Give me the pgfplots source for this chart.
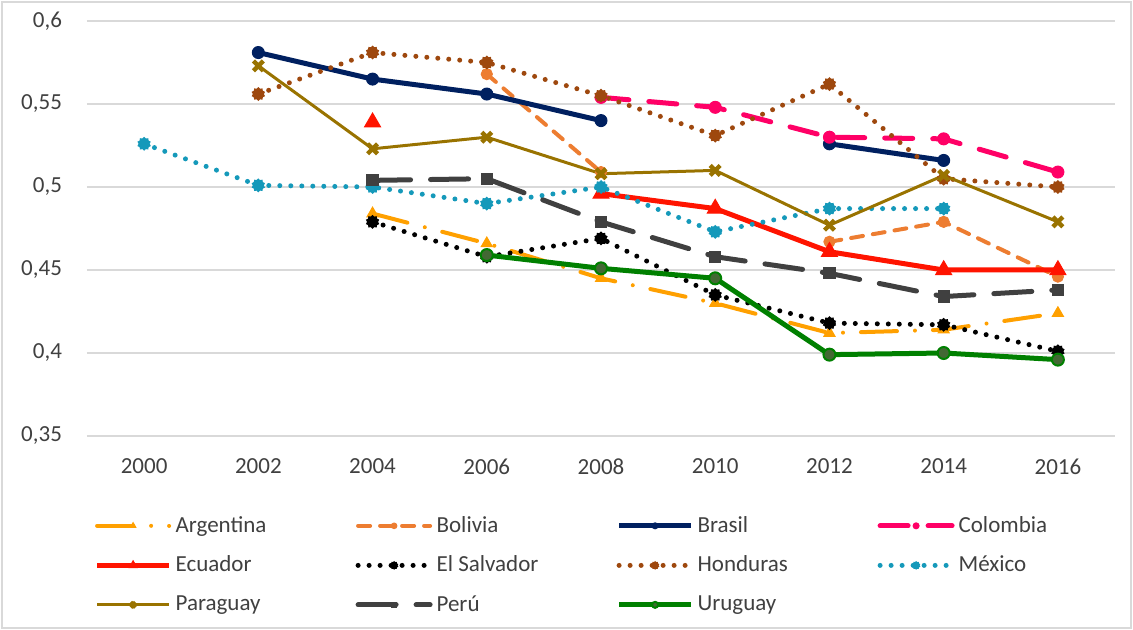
\documentclass[border=0pt]{standalone}
\usepackage{fontspec}
\setmainfont{Carlito}
\usepackage{pgfplots}
\pgfplotsset{compat=1.18}
\usetikzlibrary{plotmarks}
\definecolor{cArg}{RGB}{255,160,0}
\definecolor{cBol}{RGB}{237,125,49}
\definecolor{cBra}{RGB}{0,32,96}
\definecolor{cCol}{RGB}{255,0,102}
\definecolor{cEcu}{RGB}{255,20,0}
\definecolor{cSal}{RGB}{0,0,0}
\definecolor{cHon}{RGB}{158,72,14}
\definecolor{cMex}{RGB}{21,153,186}
\definecolor{cPar}{RGB}{153,115,0}
\definecolor{cPer}{RGB}{64,64,64}
\definecolor{cUru}{RGB}{0,128,0}
\definecolor{cUruF}{RGB}{67,104,52}
\definecolor{gridgray}{RGB}{217,217,217}
\definecolor{labelgray}{RGB}{64,64,64}
\begin{document}
\begin{tikzpicture}
\path[use as bounding box] (-43.5pt,-97pt) rectangle (523pt,218pt);
\draw[gridgray, line width=0.75pt] (-42.5pt,-96pt) rectangle (522pt,217pt);
\begin{axis}[
  at={(0,0)}, anchor=south west,
  scale only axis, width=514pt, height=207.5pt,
  xmin=1999, xmax=2017, ymin=0.35, ymax=0.6,
  xtick={2000,2002,2004,2006,2008,2010,2012,2014,2016},
  xticklabels={2000,2002,2004,2006,2008,2010,2012,2014,2016},
  ytick={0.35,0.4,0.45,0.5,0.55,0.6},
  yticklabels={{0,35},{0,4},{0,45},{0,5},{0,55},{0,6}},
  ymajorgrids, grid style={gridgray, line width=0.75pt},
  axis line style={draw=none}, major tick length=0pt,
  tick label style={font=\fontsize{11.5}{13}\selectfont, text=labelgray},
  yticklabel style={xshift=-9pt},
  xticklabel style={yshift=-8pt},
  unbounded coords=jump,
  clip=false,
  legend columns=4,
  legend cell align=left,
  legend style={at={(0.007,-0.183)}, anchor=north west, draw=none, fill=none,
    inner sep=0pt, font=\fontsize{11.5}{13}\selectfont, text=labelgray,
    /tikz/every even column/.append style={column sep=0pt},
    row sep=6.3pt},
  legend image code/.code={\draw[mark repeat=2,mark phase=2,#1, every mark/.append style={scale=0.5}] plot coordinates {(0pt,0pt) (18pt,0pt) (36pt,0pt)};},
]
\addplot[cArg, line width=2pt, line cap=round, dash pattern=on 18pt off 9pt on 0pt off 9pt,
  mark=triangle*, mark size=3.2pt, mark options={solid, fill=cArg, line width=0.5pt}]
  coordinates {(2004,0.484) (2006,0.466) (2008,0.445) (2010,0.430) (2012,0.412) (2014,0.414) (2016,0.424)};
\addlegendentry{\makebox[88pt][l]{Argentina}}
\addplot[cBol, line width=2pt, line cap=round, dash pattern=on 6pt off 5pt,
  mark=*, mark size=2.8pt, mark options={solid, fill=cBol, line width=0.5pt}]
  coordinates {(2006,0.568) (2008,0.509) (2010,nan) (2012,0.467) (2014,0.479) (2016,0.446)};
\addlegendentry{\makebox[88pt][l]{Bolivia}}
\addplot[cBra, line width=2.5pt,
  mark=*, mark size=3pt, mark options={solid, fill=cBra, line width=0.5pt}]
  coordinates {(2002,0.581) (2004,0.565) (2006,0.556) (2008,0.540) (2010,nan) (2012,0.526) (2014,0.516)};
\addlegendentry{\makebox[88pt][l]{Brasil}}
\addplot[cCol, line width=2.5pt, line cap=round, dash pattern=on 14pt off 10pt,
  mark=*, mark size=3pt, mark options={solid, fill=cCol, line width=0.5pt}]
  coordinates {(2008,0.554) (2010,0.548) (2012,0.530) (2014,0.529) (2016,0.509)};
\addlegendentry{\makebox[88pt][l]{Colombia}}
\addplot[cEcu, line width=2.5pt,
  mark=triangle*, mark size=4.6pt, mark options={solid, fill=cEcu, line width=0.5pt}]
  coordinates {(2004,0.539) (2006,nan) (2008,0.496) (2010,0.487) (2012,0.461) (2014,0.450) (2016,0.450)};
\addlegendentry{\makebox[88pt][l]{Ecuador}}
\addplot[cSal, line width=2.5pt, line cap=round, dash pattern=on 0pt off 5.5pt,
  mark=10-pointed star, mark size=2.6pt, mark options={solid, fill=cSal, line width=1.8pt}]
  coordinates {(2004,0.479) (2006,0.458) (2008,0.469) (2010,0.435) (2012,0.418) (2014,0.417) (2016,0.401)};
\addlegendentry{\makebox[88pt][l]{El Salvador}}
\addplot[cHon, line width=2.5pt, line cap=round, dash pattern=on 0pt off 5.5pt,
  mark=10-pointed star, mark size=2.6pt, mark options={solid, fill=cHon, line width=1.8pt}]
  coordinates {(2002,0.556) (2004,0.581) (2006,0.575) (2008,0.555) (2010,0.531) (2012,0.562) (2014,0.505) (2016,0.500)};
\addlegendentry{\makebox[88pt][l]{Honduras}}
\addplot[cMex, line width=2.5pt, line cap=round, dash pattern=on 0pt off 5.5pt,
  mark=10-pointed star, mark size=2.6pt, mark options={solid, fill=cMex, line width=1.8pt}]
  coordinates {(2000,0.526) (2002,0.501) (2004,0.500) (2006,0.490) (2008,0.500) (2010,0.473) (2012,0.487) (2014,0.487)};
\addlegendentry{\makebox[88pt][l]{México}}
\addplot[cPar, line width=1.5pt,
  mark=x, mark size=3.5pt, mark options={solid, line width=2.2pt}]
  coordinates {(2002,0.573) (2004,0.523) (2006,0.530) (2008,0.508) (2010,0.510) (2012,0.477) (2014,0.507) (2016,0.479)};
\addlegendentry{\makebox[88pt][l]{Paraguay}}
\addplot[cPer, line width=2.5pt, line cap=round, dash pattern=on 19pt off 10pt,
  mark=square*, mark size=2.8pt, mark options={solid, fill=cPer, line width=0.5pt}]
  coordinates {(2004,0.504) (2006,0.505) (2008,0.479) (2010,0.458) (2012,0.448) (2014,0.434) (2016,0.438)};
\addlegendentry{\makebox[88pt][l]{Perú}}
\addplot[cUru, line width=2.5pt,
  mark=*, mark size=3pt, mark options={solid, fill=cUruF, draw=cUru, line width=1pt}]
  coordinates {(2006,0.459) (2008,0.451) (2010,0.445) (2012,0.399) (2014,0.400) (2016,0.396)};
\addlegendentry{\makebox[88pt][l]{Uruguay}}
\end{axis}
\end{tikzpicture}
\end{document}
